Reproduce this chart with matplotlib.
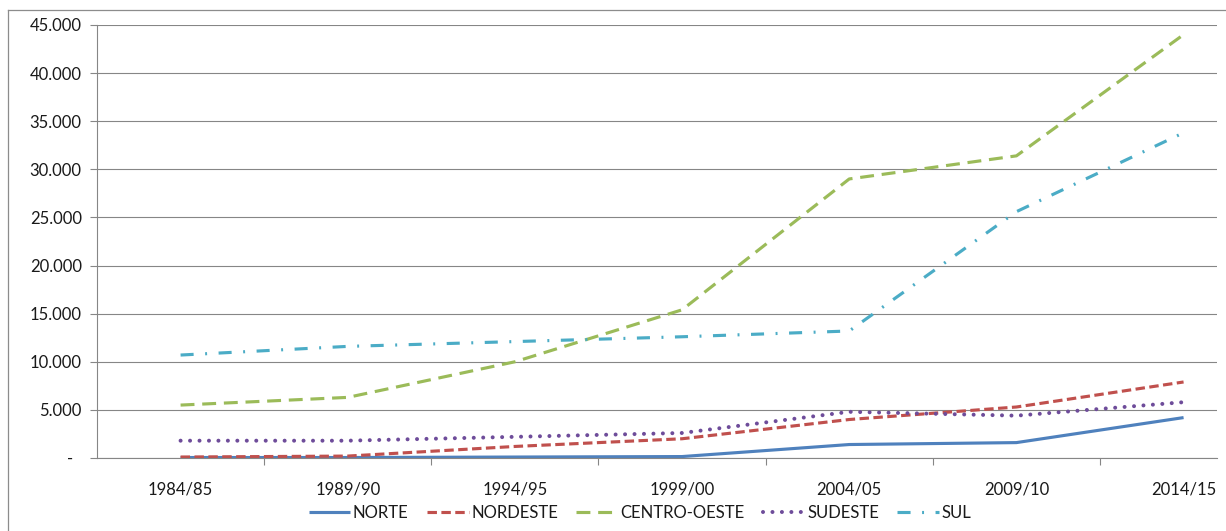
import matplotlib
matplotlib.use("Agg")
import matplotlib.pyplot as plt
from matplotlib.lines import Line2D
from matplotlib.ticker import FixedLocator, FuncFormatter

# Produção por região, por safra
safras = ["1984/85", "1989/90", "1994/95", "1999/00", "2004/05", "2009/10", "2014/15"]
norte = [50, 50, 100, 150, 1400, 1600, 4200]
nordeste = [100, 200, 1200, 2000, 4000, 5300, 7900]
centro_oeste = [5500, 6300, 10000, 15400, 29000, 31400, 44000]
sudeste = [1800, 1800, 2200, 2600, 4800, 4400, 5800]
sul = [10700, 11600, 12100, 12600, 13200, 25600, 33800]

y_ticks = list(range(0, 45001, 5000))

plt.rcParams["font.family"] = ["Lato", "DejaVu Sans"]
plt.rcParams["lines.scale_dashes"] = False

W, H = 1226, 531
fig = plt.figure(figsize=(W / 100, H / 100), dpi=100)
fig.patch.set_facecolor("white")

# chart-area frame (top and left edges)
frame_c = "#8c8c8c"
fig.add_artist(Line2D([8 / W, 1.0], [1 - 10 / H, 1 - 10 / H], color=frame_c, lw=0.9,
                      transform=fig.transFigure))
fig.add_artist(Line2D([8 / W, 8 / W], [0.0, 1 - 10 / H], color=frame_c, lw=0.9,
                      transform=fig.transFigure))

ax = fig.add_axes([97 / W, 1 - 458 / H, (1217 - 97) / W, (458 - 25) / H])

x = list(range(len(safras)))
lw = 2.25
series = [
    ("NORTE", norte, "#4F81BD", lw, dict(linestyle="-")),
    ("NORDESTE", nordeste, "#C0504D", lw, dict(linestyle=(0, (6.8, 3.2)))),
    ("CENTRO-OESTE", centro_oeste, "#9BBB59", lw, dict(linestyle=(0, (10.0, 5.6)))),
    ("SUDESTE", sudeste, "#6E4C9A", 2.9, dict(linestyle=(0, (0.01, 6.8)), dash_capstyle="round")),
    ("SUL", sul, "#4BACC6", lw, dict(linestyle=(0, (9.4, 8.3, 1.4, 8.3)))),
]
for name, vals, color, width, style in series:
    ax.plot(x, vals, color=color, lw=width, label=name, solid_capstyle="butt", **style)

ax.set_xlim(-0.5, 6.2)
ax.set_ylim(0, 45000)

grid_c = "#868686"
ax.yaxis.set_major_locator(FixedLocator(y_ticks))
ax.yaxis.set_major_formatter(FuncFormatter(
    lambda v, p: "-  " if v == 0 else f"{v:,.0f}".replace(",", ".")))
ax.grid(axis="y", color=grid_c, lw=0.8)
ax.set_axisbelow(True)

# category boundaries carry tick marks, labels sit at category centres
ax.xaxis.set_major_locator(FixedLocator([i - 0.5 for i in range(1, len(safras))]))
ax.xaxis.set_major_formatter(FuncFormatter(lambda v, p: ""))
ax.xaxis.set_minor_locator(FixedLocator(x))
ax.set_xticks(x, safras, minor=True)
ax.tick_params(axis="x", which="major", length=5, width=0.8, color=grid_c, direction="out")
ax.tick_params(axis="x", which="minor", length=0, pad=17, labelsize=12, labelcolor="#1a1a1a")
ax.tick_params(axis="y", which="major", length=5, width=0.8, color=grid_c, direction="out",
               pad=6, labelsize=12, labelcolor="#1a1a1a")

for side in ("top", "right"):
    ax.spines[side].set_visible(False)
for side in ("left", "bottom"):
    ax.spines[side].set_color(grid_c)
    ax.spines[side].set_linewidth(0.8)

fig.legend(loc="center", bbox_to_anchor=(640 / W, 1 - 513 / H), ncol=5, frameon=False,
           fontsize=12, handlelength=2.5, handletextpad=0.15, columnspacing=1.1,
           borderaxespad=0, labelcolor="#1a1a1a")

fig.savefig("out.png", dpi=100, facecolor="white")
